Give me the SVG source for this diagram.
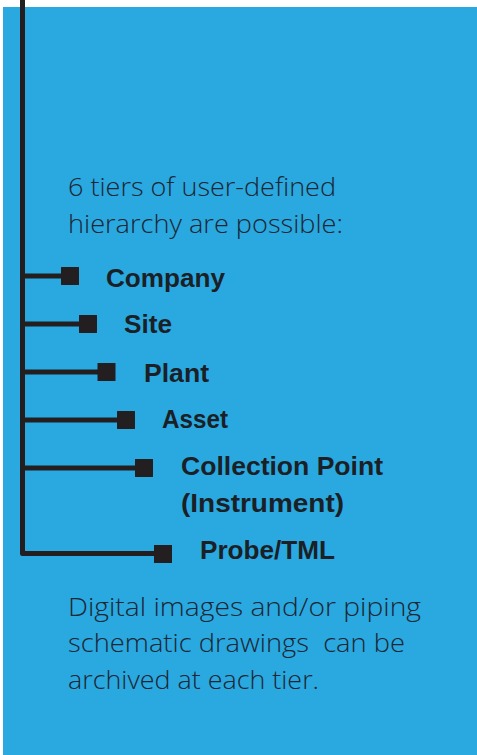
<svg xmlns="http://www.w3.org/2000/svg" width="477" height="755" viewBox="0 0 477 755">
<style>
.bg{fill:#2aa8e0}
.ln{fill:none;stroke:#231f20;stroke-width:5;stroke-linejoin:round}
.sq{fill:#231f20}
.lbl{font-family:"Liberation Sans",Arial,sans-serif;font-weight:bold;font-size:25.5px;fill:#1b1f26}
.body{font-family:"Open Sans","Liberation Sans",sans-serif;font-weight:300;font-size:26px;fill:#1b2633}
</style>
<rect class="bg" x="3" y="7" width="474" height="748"/>
<g id="connectors">
<path class="ln" d="M22.5 0 V553.5 H160"/>
<path class="ln" d="M22.5 276 H65"/>
<path class="ln" d="M22.5 324 H83"/>
<path class="ln" d="M22.5 372 H101"/>
<path class="ln" d="M22.5 420 H121"/>
<path class="ln" d="M22.5 468 H139"/>
</g>
<g id="intro">
<text class="body" x="68" y="196" textLength="268" lengthAdjust="spacingAndGlyphs">6 tiers of user-defined</text>
<text class="body" x="68" y="233" textLength="275" lengthAdjust="spacingAndGlyphs">hierarchy are possible:</text>
</g>
<g id="company"><rect class="sq" x="61" y="267" width="18" height="18"/><text class="lbl" x="106" y="287" textLength="119" lengthAdjust="spacingAndGlyphs">Company</text></g>
<g id="site"><rect class="sq" x="79" y="315" width="18" height="18"/><text class="lbl" x="124" y="333" textLength="48" lengthAdjust="spacingAndGlyphs">Site</text></g>
<g id="plant"><rect class="sq" x="97.5" y="363" width="18" height="18"/><text class="lbl" x="144" y="382" textLength="65" lengthAdjust="spacingAndGlyphs">Plant</text></g>
<g id="asset"><rect class="sq" x="117" y="411" width="18" height="18"/><text class="lbl" x="162" y="428" textLength="66" lengthAdjust="spacingAndGlyphs">Asset</text></g>
<g id="collection"><rect class="sq" x="135" y="459" width="18" height="18"/><text class="lbl" x="181" y="475" textLength="202" lengthAdjust="spacingAndGlyphs">Collection Point</text><text class="lbl" x="181" y="512" textLength="163" lengthAdjust="spacingAndGlyphs">(Instrument)</text></g>
<g id="probe"><rect class="sq" x="154" y="545" width="18" height="18"/><text class="lbl" x="200" y="559" textLength="135" lengthAdjust="spacingAndGlyphs">Probe/TML</text></g>
<g id="note">
<text class="body" x="68" y="616" textLength="353" lengthAdjust="spacingAndGlyphs">Digital images and/or piping</text>
<text class="body" x="68" y="652" textLength="337" lengthAdjust="spacingAndGlyphs" xml:space="preserve">schematic drawings  can be</text>
<text class="body" x="68" y="689" textLength="251" lengthAdjust="spacingAndGlyphs">archived at each tier.</text>
</g>
</svg>
